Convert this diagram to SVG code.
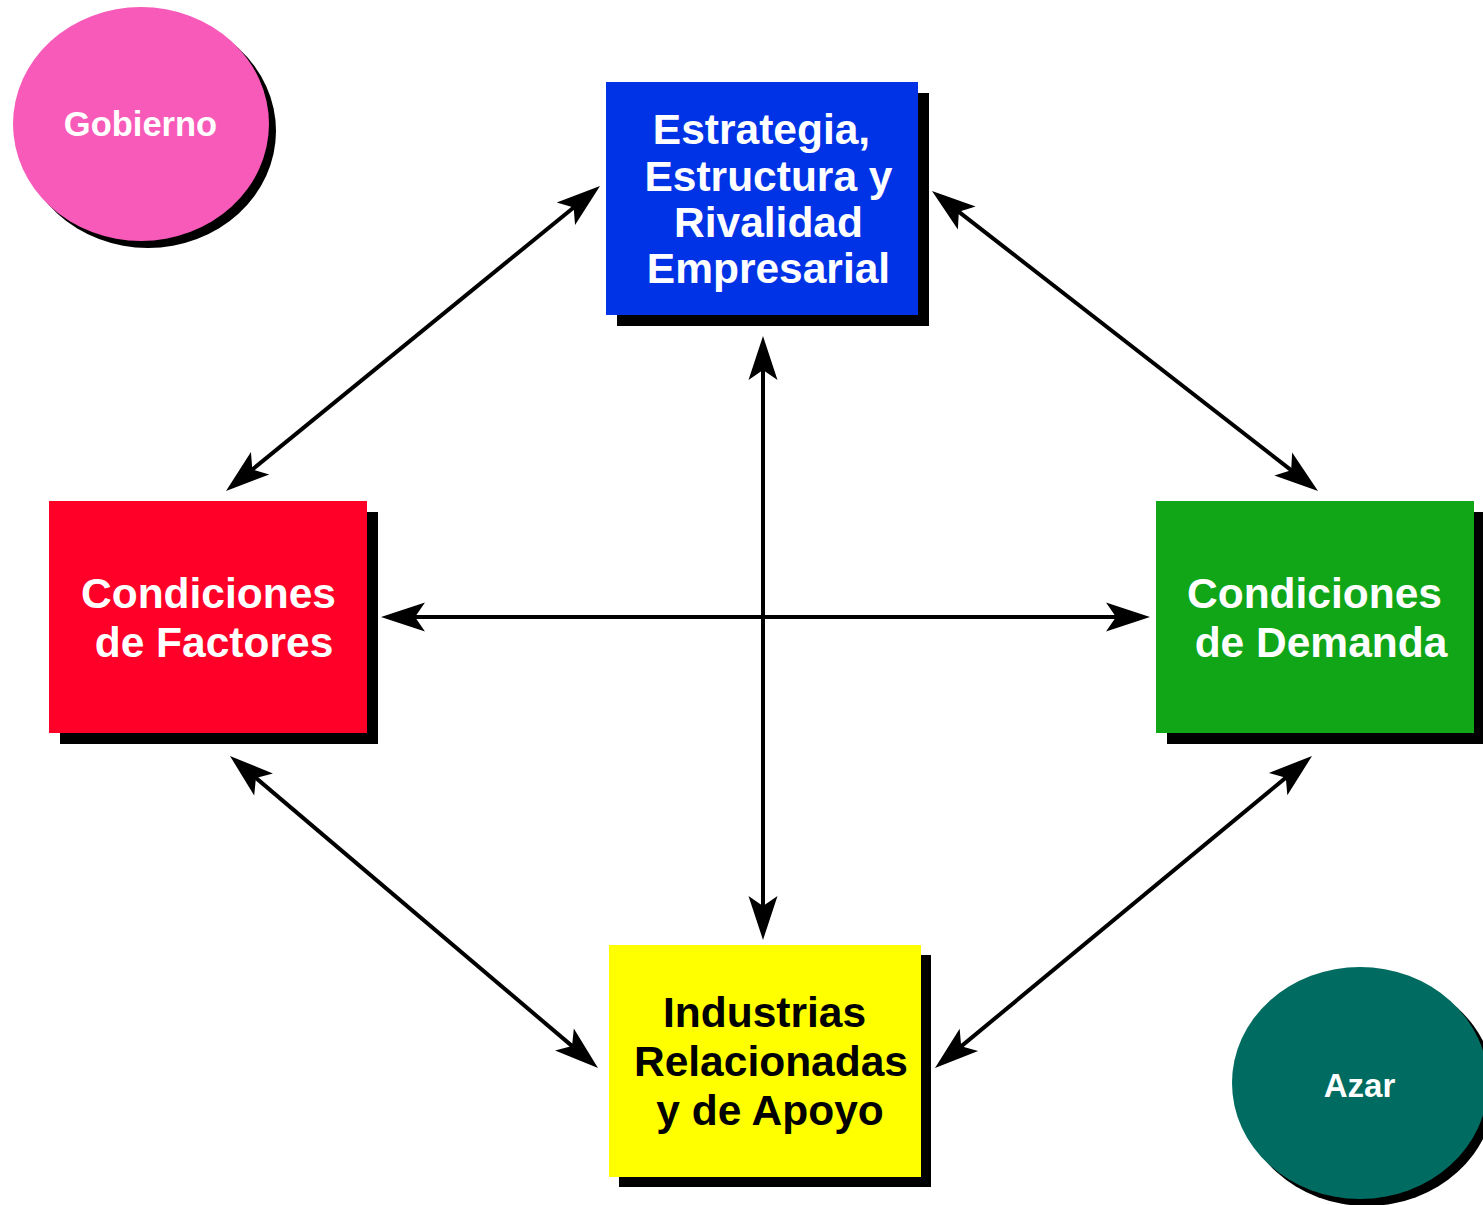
<svg xmlns="http://www.w3.org/2000/svg" width="1483" height="1205" viewBox="0 0 1483 1205">
<style>
text{font-family:"Liberation Sans",Arial,sans-serif;font-weight:bold;text-anchor:middle}
.t42{font-size:42.5px}
.t33{font-size:33px}
.t34{font-size:34.5px}
.w{fill:#fff}
.k{fill:#000}
.sh{fill:#000}
.conn{stroke:#000;stroke-width:4;fill:none;marker-start:url(#ah);marker-end:url(#ah)}
</style>
<defs>
<marker id="ah" markerUnits="userSpaceOnUse" orient="auto-start-reverse" refX="0" refY="0" markerWidth="60" markerHeight="40" overflow="visible">
<path d="M30,0 L-14,-14.5 L-4,0 L-14,14.5 Z" fill="#000"/>
</marker>
</defs>
<rect width="1483" height="1205" fill="#fff"/>
<g id="gobierno">
<ellipse cx="148" cy="131" rx="128" ry="117" class="sh"/>
<ellipse cx="141" cy="124" rx="128" ry="117" fill="#F75AB8"/>
<text class="t34 w" x="140.5" y="136">Gobierno</text>
</g>
<g id="azar">
<ellipse cx="1367" cy="1090" rx="128" ry="116" class="sh"/>
<ellipse cx="1360" cy="1083" rx="128" ry="116" fill="#006B60"/>
<text class="t33 w" x="1359.5" y="1097">Azar</text>
</g>
<g id="estrategia">
<rect x="617" y="93" width="312" height="233" class="sh"/>
<rect x="606" y="82" width="312" height="233" fill="#0033E6"/>
<text class="t42 w" x="761.5" y="144">Estrategia,</text>
<text class="t42 w" x="768.5" y="190.5">Estructura y</text>
<text class="t42 w" x="768.5" y="237">Rivalidad</text>
<text class="t42 w" x="768.5" y="283">Empresarial</text>
</g>
<g id="factores">
<rect x="60" y="512" width="318" height="232" class="sh"/>
<rect x="49" y="501" width="318" height="232" fill="#FF0029"/>
<text class="t42 w" x="208.5" y="608">Condiciones</text>
<text class="t42 w" x="214" y="657">de Factores</text>
</g>
<g id="demanda">
<rect x="1167" y="512" width="318" height="232" class="sh"/>
<rect x="1156" y="501" width="318" height="232" fill="#10A618"/>
<text class="t42 w" x="1314.5" y="608">Condiciones</text>
<text class="t42 w" x="1321" y="657">de Demanda</text>
</g>
<g id="industrias">
<rect x="619" y="955" width="312" height="232" class="sh"/>
<rect x="609" y="945" width="312" height="232" fill="#FFFF00"/>
<text class="t42 k" x="764.5" y="1027">Industrias</text>
<text class="t42 k" x="771" y="1076">Relacionadas</text>
<text class="t42 k" x="770" y="1125">y de Apoyo</text>
</g>
<g id="connectors">
<line class="conn" x1="576.75" y1="204.96" x2="249.25" y2="472.04"/>
<line class="conn" x1="955.69" y1="209.41" x2="1294.31" y2="472.59"/>
<line class="conn" x1="763" y1="366" x2="763" y2="910"/>
<line class="conn" x1="411" y1="617" x2="1120" y2="617"/>
<line class="conn" x1="252.88" y1="775.4" x2="575.12" y2="1048.6"/>
<line class="conn" x1="1288.89" y1="775.13" x2="958.11" y2="1048.87"/>
</g>
</svg>
